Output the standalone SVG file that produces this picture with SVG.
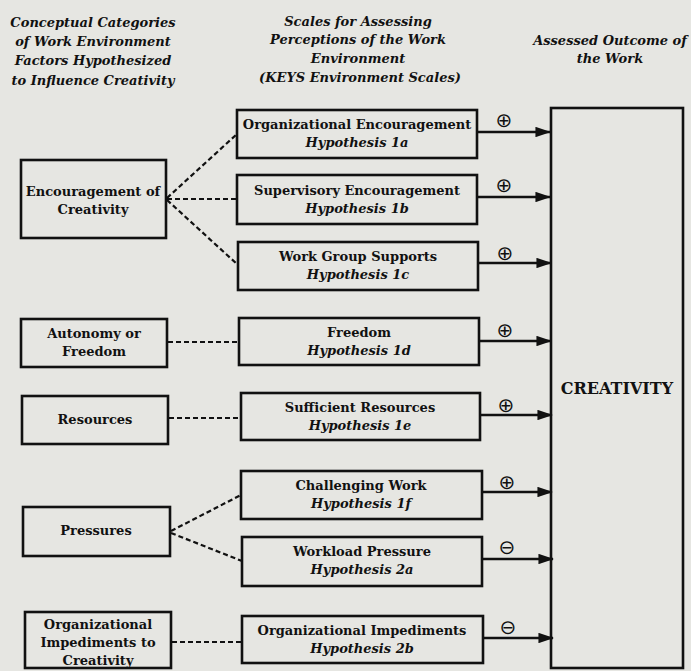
<svg xmlns="http://www.w3.org/2000/svg" width="691" height="671" viewBox="0 0 691 671">
<style>
.bg{fill:#e6e6e2}
.box{fill:none;stroke:#111;stroke-width:2.6}
.hd{font-family:"DejaVu Serif","Liberation Serif",serif;font-weight:bold;font-style:italic;font-size:13px;fill:#111;text-anchor:middle}
.t{font-family:"DejaVu Serif","Liberation Serif",serif;font-weight:bold;font-size:13px;fill:#111;text-anchor:middle}
.ti{font-family:"DejaVu Serif","Liberation Serif",serif;font-weight:bold;font-style:italic;font-size:13px;fill:#111;text-anchor:middle}
.big{font-family:"DejaVu Serif","Liberation Serif",serif;font-weight:bold;font-size:16px;fill:#111;text-anchor:middle}
.dash{fill:none;stroke:#111;stroke-width:2.2;stroke-dasharray:5 3}
.arr{fill:none;stroke:#111;stroke-width:2.6;marker-end:url(#ah)}
.sg{font-family:"DejaVu Sans",sans-serif;font-size:20px;fill:#111;text-anchor:middle}
</style>
<defs>
<marker id="ah" markerWidth="6" markerHeight="4" refX="5.6" refY="2" orient="auto" markerUnits="strokeWidth">
<path d="M0,0 L6,2 L0,4 Z" fill="#111"/>
</marker>
</defs>
<rect class="bg" x="0" y="0" width="691" height="671"/>

<g id="headers">
<text class="hd" x="93" y="27">Conceptual Categories</text>
<text class="hd" x="93" y="46">of Work Environment</text>
<text class="hd" x="93" y="65">Factors Hypothesized</text>
<text class="hd" x="93" y="85">to Influence Creativity</text>
<text class="hd" x="358" y="26">Scales for Assessing</text>
<text class="hd" x="358" y="44">Perceptions of the Work</text>
<text class="hd" x="358" y="63">Environment</text>
<text class="hd" x="360" y="82">(KEYS Environment  Scales)</text>
<text class="hd" x="610" y="45">Assessed Outcome of</text>
<text class="hd" x="610" y="63">the Work</text>
</g>

<g id="connectors">
<path class="dash" d="M167,198 L237,134"/>
<path class="dash" d="M167,199 L237,199"/>
<path class="dash" d="M167,200 L238,265"/>
<path class="dash" d="M168,342 L239,342"/>
<path class="dash" d="M169,418 L241,418"/>
<path class="dash" d="M171,531 L241,495"/>
<path class="dash" d="M171,533 L242,561"/>
<path class="dash" d="M172,642 L242,642"/>
<path class="arr" d="M477,132 L550,132"/>
<path class="arr" d="M477,197 L550,197"/>
<path class="arr" d="M478,263 L551,263"/>
<path class="arr" d="M479,341 L551,341"/>
<path class="arr" d="M480,415 L552,415"/>
<path class="arr" d="M482,492 L552,492"/>
<path class="arr" d="M482,559 L553,559"/>
<path class="arr" d="M483,638 L553,638"/>
</g>

<g id="signs">
<text class="sg" x="504" y="127">⊕</text>
<text class="sg" x="504" y="192">⊕</text>
<text class="sg" x="505" y="260">⊕</text>
<text class="sg" x="505" y="337">⊕</text>
<text class="sg" x="506" y="412">⊕</text>
<text class="sg" x="507" y="489">⊕</text>
<text class="sg" x="507" y="554">⊖</text>
<text class="sg" x="508" y="634">⊖</text>
</g>

<g id="cat-encouragement">
<rect class="box" x="21" y="160" width="145" height="78"/>
<text class="t" x="93" y="196">Encouragement of</text>
<text class="t" x="93" y="214">Creativity</text>
</g>
<g id="cat-autonomy">
<rect class="box" x="21" y="319" width="146" height="48"/>
<text class="t" x="94" y="338">Autonomy or</text>
<text class="t" x="94" y="356">Freedom</text>
</g>
<g id="cat-resources">
<rect class="box" x="22" y="396" width="146" height="48"/>
<text class="t" x="95" y="424">Resources</text>
</g>
<g id="cat-pressures">
<rect class="box" x="23" y="507" width="147" height="49"/>
<text class="t" x="96" y="535">Pressures</text>
</g>
<g id="cat-impediments">
<rect class="box" x="25" y="612" width="146" height="56"/>
<text class="t" x="98" y="629">Organizational</text>
<text class="t" x="98" y="647">Impediments to</text>
<text class="t" x="98" y="665">Creativity</text>
</g>

<g id="scale-org-enc">
<rect class="box" x="237" y="110" width="240" height="48"/>
<text class="t" x="357" y="129">Organizational Encouragement</text>
<text class="ti" x="357" y="147">Hypothesis 1a</text>
</g>
<g id="scale-sup-enc">
<rect class="box" x="237" y="175" width="240" height="49"/>
<text class="t" x="357" y="195">Supervisory Encouragement</text>
<text class="ti" x="357" y="213">Hypothesis 1b</text>
</g>
<g id="scale-workgroup">
<rect class="box" x="238" y="242" width="240" height="48"/>
<text class="t" x="358" y="261">Work Group Supports</text>
<text class="ti" x="358" y="279">Hypothesis 1c</text>
</g>
<g id="scale-freedom">
<rect class="box" x="239" y="318" width="240" height="47"/>
<text class="t" x="359" y="337">Freedom</text>
<text class="ti" x="359" y="355">Hypothesis 1d</text>
</g>
<g id="scale-resources">
<rect class="box" x="241" y="393" width="239" height="47"/>
<text class="t" x="360" y="412">Sufficient Resources</text>
<text class="ti" x="360" y="430">Hypothesis 1e</text>
</g>
<g id="scale-challenging">
<rect class="box" x="241" y="471" width="241" height="48"/>
<text class="t" x="361" y="490">Challenging Work</text>
<text class="ti" x="361" y="508">Hypothesis 1f</text>
</g>
<g id="scale-workload">
<rect class="box" x="242" y="537" width="240" height="49"/>
<text class="t" x="362" y="556">Workload Pressure</text>
<text class="ti" x="362" y="574">Hypothesis 2a</text>
</g>
<g id="scale-impediments">
<rect class="box" x="242" y="616" width="241" height="47"/>
<text class="t" x="362" y="635">Organizational Impediments</text>
<text class="ti" x="362" y="653">Hypothesis 2b</text>
</g>

<g id="creativity">
<rect class="box" x="551" y="108" width="132" height="560"/>
<text class="big" x="617" y="394">CREATIVITY</text>
</g>
</svg>
